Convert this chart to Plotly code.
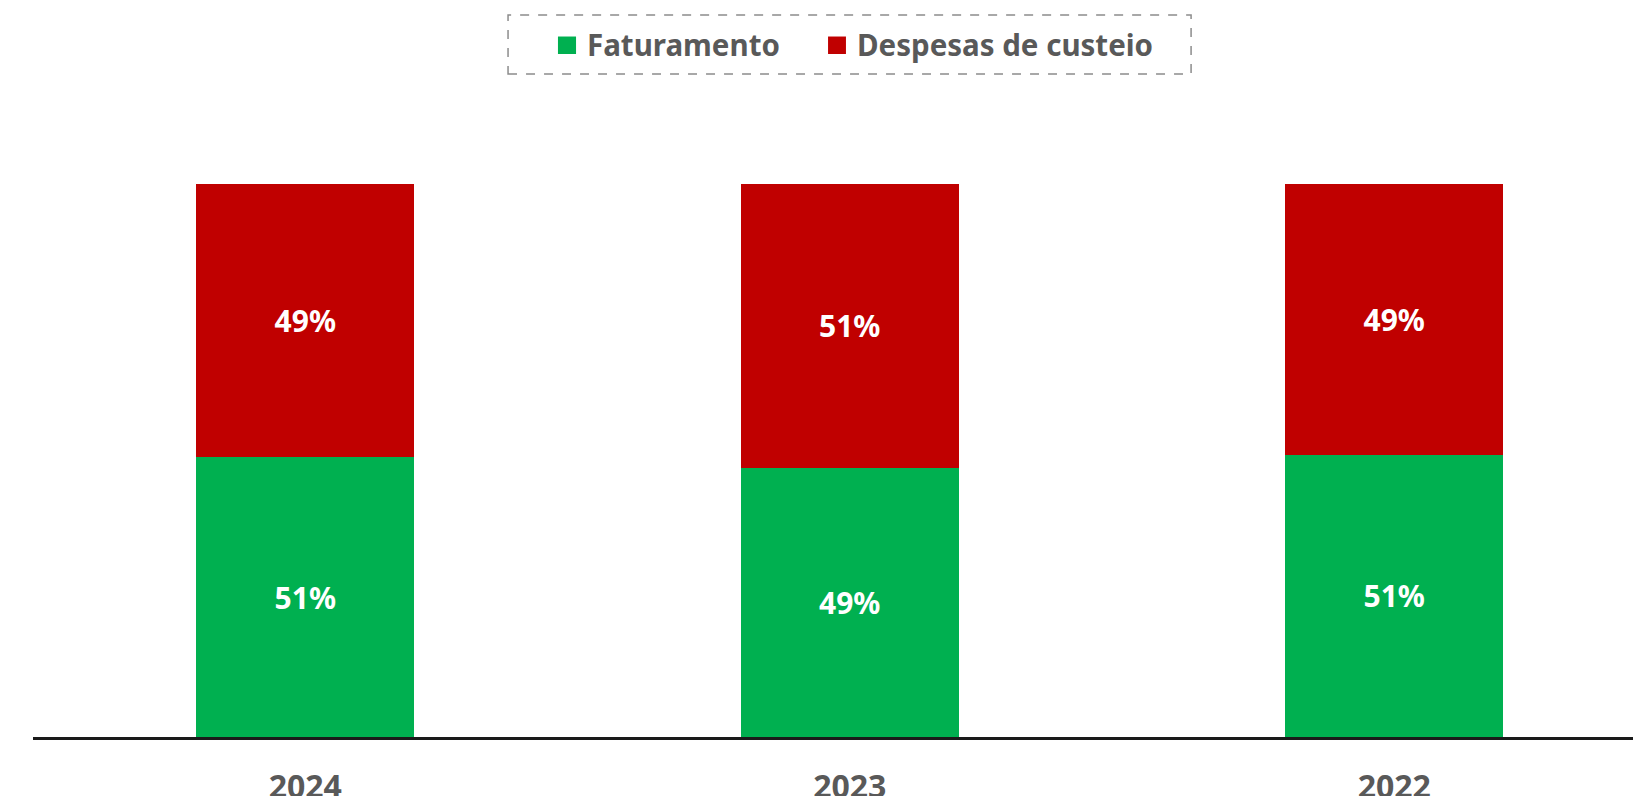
import plotly.graph_objects as go

years = ["2024", "2023", "2022"]
faturamento = [0.506, 0.487, 0.510]
despesas = [0.494, 0.513, 0.490]
series_names = ["Faturamento", "Despesas de custeio"]
colors = ["#00B050", "#C00000"]

FONT = "Noto Sans"
GRAY = "#595959"

fig = go.Figure()
for name, vals, col in zip(series_names, [faturamento, despesas], colors):
    fig.add_trace(go.Bar(
        x=years, y=vals, name=name, marker=dict(color=col, line=dict(width=0)),
        width=0.4, texttemplate="%{y:.0%}", textposition="inside",
        insidetextanchor="middle",
        textfont=dict(family=FONT, size=30, color="white", weight="bold"),
        showlegend=False, hoverinfo="skip",
    ))

# manual legend (squares + labels), positions in paper coordinates
legend_sq_x = [(0.3281, 0.3394), (0.4969, 0.5081)]
legend_txt_x = [0.3450, 0.5138]
shapes = []
annotations = []
for name, col, (sx0, sx1), tx in zip(series_names, colors, legend_sq_x, legend_txt_x):
    shapes.append(dict(type="rect", xref="paper", yref="paper",
                       x0=sx0, x1=sx1, y0=1.2351, y1=1.2667,
                       fillcolor=col, line=dict(width=0)))
    annotations.append(dict(text=name, xref="paper", yref="paper", x=tx, y=1.2514,
                            xanchor="left", yanchor="middle", showarrow=False,
                            font=dict(family=FONT, size=29.5, color=GRAY, weight="bold")))
shapes.append(dict(
    type="rect", xref="paper", yref="paper",
    x0=0.2969, x1=0.7238, y0=1.1989, y1=1.3056,
    line=dict(color="#8c8c8c", width=1.5, dash="dash"),
    fillcolor="rgba(0,0,0,0)",
))

fig.update_layout(
    barmode="stack",
    width=1633, height=796,
    margin=dict(l=33, r=0, t=184, b=59, autoexpand=False),
    paper_bgcolor="white", plot_bgcolor="white",
    font=dict(family=FONT, color=GRAY),
    showlegend=False,
    xaxis=dict(
        range=[-0.5, 2.4385], showline=True, linecolor="#1a1a1a", linewidth=2.5,
        showgrid=False, zeroline=False, ticks="", ticklabelstandoff=20,
        tickfont=dict(family=FONT, size=32, color=GRAY, weight="bold"),
        fixedrange=True, automargin=False,
    ),
    yaxis=dict(range=[0, 1], visible=False, showgrid=False, zeroline=False,
               automargin=False, fixedrange=True),
    shapes=shapes,
    annotations=annotations,
)

fig.write_html("out.html", config={"displayModeBar": False},
               post_script="document.body.style.margin='0';document.body.style.overflow='hidden';")
